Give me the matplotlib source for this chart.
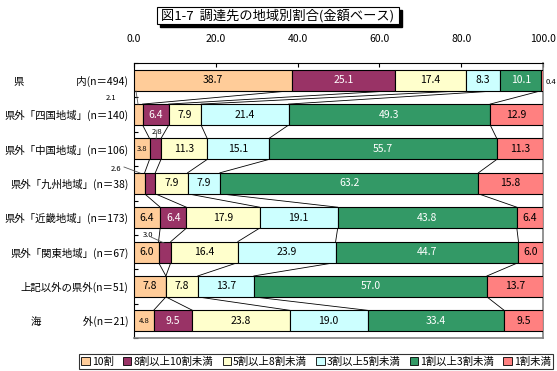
import matplotlib
matplotlib.use("Agg")
import matplotlib.pyplot as plt
from matplotlib.patches import Patch, Rectangle
import numpy as np

plt.rcParams['font.family'] = ['Noto Sans CJK JP', 'DejaVu Sans']

title = "図1-7  調達先の地域別割合(金額ベース)"
categories = [
    "県　　　　　内(n＝494)",
    "県外「四国地域」(n＝140)",
    "県外「中国地域」(n＝106)",
    "県外「九州地域」(n＝38)",
    "県外「近畿地域」(n＝173)",
    "県外「関東地域」(n＝67)",
    "上記以外の県外(n＝51)",
    "海　　　　外(n＝21)",
]
series_names = ["10割", "8割以上10割未満", "5割以上8割未満", "3割以上5割未満", "1割以上3割未満", "1割未満"]
s_10 = [38.7, 2.1, 3.8, 2.6, 6.4, 6.0, 7.8, 4.8]
s_8_10 = [25.1, 6.4, 2.8, 2.6, 6.4, 3.0, 0.0, 9.5]
s_5_8 = [17.4, 7.9, 11.3, 7.9, 17.9, 16.4, 7.8, 23.8]
s_3_5 = [8.3, 21.4, 15.1, 7.9, 19.1, 23.9, 13.7, 19.0]
s_1_3 = [10.1, 49.3, 55.7, 63.2, 43.8, 44.7, 57.0, 33.4]
s_lt1 = [0.4, 12.9, 11.3, 15.8, 6.4, 6.0, 13.7, 9.5]
xticks = [0, 20, 40, 60, 80, 100]
xticklabels = ["0.0", "20.0", "40.0", "60.0", "80.0", "100.0"]

colors = ["#FFCC99", "#993366", "#FFFFCC", "#CCFFFF", "#339966", "#FF8080"]
text_colors = ["black", "white", "black", "black", "white", "black"]

data = np.array([s_10, s_8_10, s_5_8, s_3_5, s_1_3, s_lt1])

fig = plt.figure(figsize=(5.57, 3.71), dpi=100)
W, H = 557, 371
ax = fig.add_axes([134 / W, 1 - 338 / H, (543 - 134) / W, (338 - 63) / H])

n = len(categories)
y = np.arange(n)
bh = 0.61
left = np.zeros(n)
for k in range(data.shape[0]):
    ax.barh(y, data[k], left=left, height=bh, color=colors[k], edgecolor="black", linewidth=0.8, zorder=3)
    for i in range(n):
        v = data[k][i]
        if v >= 3.5:
            fs = 7.5 if v >= 6 else 5.5
            ax.text(left[i] + v / 2, y[i], f"{v:.1f}", ha="center", va="center",
                    color=text_colors[k], fontsize=fs, zorder=4)
    left = left + data[k]

# series lines
cum = np.cumsum(data, axis=0)
for i in range(n - 1):
    for k in range(data.shape[0] - 1):
        ax.plot([cum[k][i], cum[k][i + 1]], [y[i] + bh / 2, y[i + 1] - bh / 2],
                color="black", linewidth=0.6, zorder=2)

# small labels outside bars
def px2d(px, py):
    return (px - 134) / 409 * 100, (py - 63) / 34.375 - 0.5

small = [
    (s_lt1[0], 551, 82, None),
    (s_10[1], 111, 98, (136, 91, 138, 104)),
    (s_8_10[2], 157, 132, (157, 130, 156, 140)),
    (s_10[3], 116, 169, (124, 167, 140, 173)),
    (s_8_10[5], 148, 235, (151, 237, 164, 243)),
]
for v, tx, ty, ln in small:
    dx, dy = px2d(tx, ty)
    ax.text(dx, dy, f"{v:.1f}", ha="center", va="center", fontsize=5.5, clip_on=False, zorder=5)
    if ln is not None:
        x0, y0 = px2d(ln[0], ln[1])
        x1, y1 = px2d(ln[2], ln[3])
        ax.plot([x0, x1], [y0, y1], color="#555555", linewidth=0.6, clip_on=False, zorder=5)

ax.set_xlim(0, 100)
ax.set_ylim(n - 0.5, -0.5)
ax.xaxis.tick_top()
ax.set_xticks(xticks)
ax.set_xticklabels(xticklabels, fontsize=7.5)
ax.tick_params(axis="x", which="major", direction="in", length=3, pad=14, width=0.8)
ax.set_yticks(y)
ax.set_yticklabels(categories, fontsize=7.5)
ax.tick_params(axis="y", which="major", length=0, pad=4)
ax.set_yticks(np.arange(-0.5, n, 1), minor=True)
ax.tick_params(axis="y", which="minor", direction="in", length=3, width=0.8)
for s in ["top", "left"]:
    ax.spines[s].set_color("black")
    ax.spines[s].set_linewidth(0.8)
for s in ["right", "bottom"]:
    ax.spines[s].set_color("#808080")
    ax.spines[s].set_linewidth(1.2)

# title box with shadow
fig.patches.append(Rectangle((160 / W, 1 - 27 / H), 242 / W, 17 / H, transform=fig.transFigure,
                             facecolor="black", edgecolor="black", zorder=1))
fig.patches.append(Rectangle((157 / W, 1 - 24 / H), 242 / W, 17 / H, transform=fig.transFigure,
                             facecolor="white", edgecolor="black", linewidth=0.8, zorder=2))
fig.text(278 / W, 1 - 15.5 / H, title, ha="center", va="center", fontsize=9.5, zorder=3)

handles = [Patch(facecolor=c, edgecolor="black", linewidth=0.6) for c in colors]
leg = fig.legend(handles, series_names, loc="center", bbox_to_anchor=(316 / W, 1 - 361.5 / H),
                 ncol=6, fontsize=7.5, frameon=True, fancybox=False, handlelength=0.8, handleheight=0.8,
                 handletextpad=0.2, columnspacing=0.9, borderpad=0.25, borderaxespad=0)
leg.get_frame().set_edgecolor("black")
leg.get_frame().set_linewidth(0.8)

fig.savefig("out.png", dpi=100)
